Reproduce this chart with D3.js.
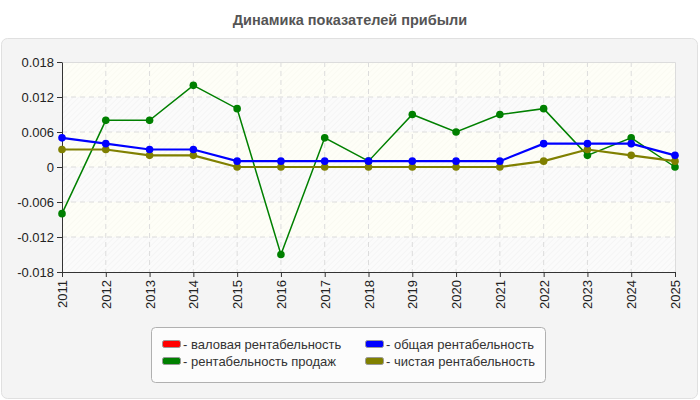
<!DOCTYPE html>
<html>
<head>
<meta charset="utf-8">
<script src="https://cdn.jsdelivr.net/npm/d3@7"></script>
<style>
  body { margin: 0; background: #fff; }
  svg { display: block; font-family: "Liberation Sans", Arial, sans-serif; }
</style>
</head>
<body>
<svg id="chart" width="700" height="400"></svg>
<script>
// chart data
let years = ["2011","2012","2013","2014","2015","2016","2017","2018","2019","2020","2021","2022","2023","2024","2025"];
let gross_margin = []; // no values shown for this series
let sales_margin = [-0.008, 0.008, 0.008, 0.014, 0.010, -0.015, 0.005, 0.001, 0.009, 0.006, 0.009, 0.010, 0.002, 0.005, 0.000];
let total_margin = [0.005, 0.004, 0.003, 0.003, 0.001, 0.001, 0.001, 0.001, 0.001, 0.001, 0.001, 0.004, 0.004, 0.004, 0.002];
let net_margin = [0.003, 0.003, 0.002, 0.002, 0.000, 0.000, 0.000, 0.000, 0.000, 0.000, 0.000, 0.001, 0.003, 0.002, 0.001];
let y_ticks = [-0.018, -0.012, -0.006, 0, 0.006, 0.012, 0.018];
let series_names = ["валовая рентабельность", "общая рентабельность", "рентабельность продаж", "чистая рентабельность"];
let chart_title = "Динамика показателей прибыли";

let series = [
  { name: series_names[0], color: "#ff0000", values: gross_margin, width: 2.2 },
  { name: series_names[1], color: "#0000ff", values: total_margin, width: 2.2 },
  { name: series_names[2], color: "#008000", values: sales_margin, width: 1.5 },
  { name: series_names[3], color: "#808000", values: net_margin, width: 2.2 }
];
// draw order: green underneath, then olive, then blue on top
let draw_order = [2, 3, 1, 0];

let svg = d3.select("#chart");
let plot_l = 62, plot_r = 675, plot_t = 62, plot_b = 272;

// title
svg.append("text")
  .attr("x", 350).attr("y", 25)
  .attr("text-anchor", "middle")
  .style("font-size", "14.5px").style("font-weight", "bold")
  .style("fill", "#555")
  .text(chart_title);

// outer panel
svg.append("rect")
  .attr("x", 1.5).attr("y", 38.5)
  .attr("width", 696).attr("height", 360)
  .attr("rx", 6)
  .style("fill", "#f4f4f4").style("stroke", "#e0e0e0");

let x = d3.scalePoint().domain(years).range([plot_l, plot_r]);
let y = d3.scaleLinear().domain([-0.018, 0.018]).range([plot_b, plot_t]);

// hatch patterns for the plot bands
let defs = svg.append("defs");
function hatch(id, bg, fg) {
  let p = defs.append("pattern")
    .attr("id", id).attr("patternUnits", "userSpaceOnUse")
    .attr("width", 4).attr("height", 4)
    .attr("patternTransform", "rotate(45)");
  p.append("rect").attr("width", 4).attr("height", 4).style("fill", bg);
  p.append("line").attr("x1", 0).attr("y1", 0).attr("x2", 0).attr("y2", 4)
    .style("stroke", fg).style("stroke-width", 1);
}
hatch("band-a", "#fefef7", "#f7f7ee");
hatch("band-b", "#fbfbfb", "#f0f0f0");

// alternating bands between the ticks
for(let i=0; i<y_ticks.length-1; i++) {
  let lo = y_ticks[i], hi = y_ticks[i+1];
  svg.append("rect")
    .attr("x", plot_l).attr("y", y(hi))
    .attr("width", plot_r-plot_l).attr("height", y(lo)-y(hi))
    .style("fill", (i % 2 == 0) ? "url(#band-b)" : "url(#band-a)");
}

// grid
svg.append("g").selectAll("line").data(y_ticks.slice(1, -1)).join("line")
  .attr("x1", plot_l).attr("x2", plot_r)
  .attr("y1", d => y(d)).attr("y2", d => y(d))
  .style("stroke", "#dcdcdc").style("stroke-dasharray", "5,4");
svg.append("g").selectAll("line").data(years.slice(1, -1)).join("line")
  .attr("x1", d => x(d)).attr("x2", d => x(d))
  .attr("y1", plot_t).attr("y2", plot_b)
  .style("stroke", "#dcdcdc").style("stroke-dasharray", "5,4");
// top and right frame
svg.append("path")
  .attr("d", `M${plot_l},${plot_t+0.5}H${plot_r+0.5}V${plot_b}`)
  .style("fill", "none").style("stroke", "#dcdcdc");

// axes
let yAxis = svg.append("g")
  .attr("transform", `translate(${plot_l},0)`)
  .call(d3.axisLeft(y).tickValues(y_ticks).tickSize(5).tickSizeOuter(0)
    .tickFormat(d => d == 0 ? "0" : d3.format(".3f")(d).replace("−", "-")));
let xAxis = svg.append("g")
  .attr("transform", `translate(0,${plot_b})`)
  .call(d3.axisBottom(x).tickSize(5).tickSizeOuter(0));
xAxis.selectAll("text")
  .attr("transform", "rotate(-90)")
  .attr("x", -8).attr("y", 0).attr("dy", "0.35em")
  .style("text-anchor", "end");
for(let ax of [xAxis, yAxis]) {
  ax.selectAll("path, line").style("stroke", "#333");
  ax.selectAll("text").style("font-size", "13px").style("fill", "#222")
    .style("font-family", "\"Liberation Sans\", Arial, sans-serif");
}

// lines and points
let line = d3.line()
  .defined(d => d != null)
  .x((d, i) => x(years[i]))
  .y(d => y(d));
for(let idx of draw_order) {
  let s = series[idx];
  if(!s.values.length) continue;
  let g = svg.append("g");
  g.append("path")
    .datum(s.values)
    .attr("d", line)
    .style("fill", "none").style("stroke", s.color).style("stroke-width", s.width);
  g.selectAll("circle").data(s.values).join("circle")
    .attr("cx", (d, i) => x(years[i])).attr("cy", d => y(d))
    .attr("r", 3.8)
    .style("fill", s.color);
}

// legend
let legend = svg.append("g");
legend.append("rect")
  .attr("x", 151.5).attr("y", 327.5)
  .attr("width", 394).attr("height", 55).attr("rx", 4)
  .style("fill", "#fcfcfc").style("stroke", "#b0b0b0");
series.forEach((s, i) => {
  let col = i % 2, row = Math.floor(i / 2);
  let lx = 162 + col * 203, ly = 340 + row * 17;
  legend.append("rect")
    .attr("x", lx + 0.5).attr("y", ly + 0.5)
    .attr("width", 18).attr("height", 7).attr("rx", 2)
    .style("fill", s.color).style("stroke", "#999");
  legend.append("text")
    .attr("x", lx + 21).attr("y", ly + 4).attr("dy", "0.35em")
    .style("font-size", "13px").style("fill", "#333")
    .style("font-family", "\"Liberation Sans\", Arial, sans-serif")
    .text("- " + s.name);
});
</script>
</body>
</html>
